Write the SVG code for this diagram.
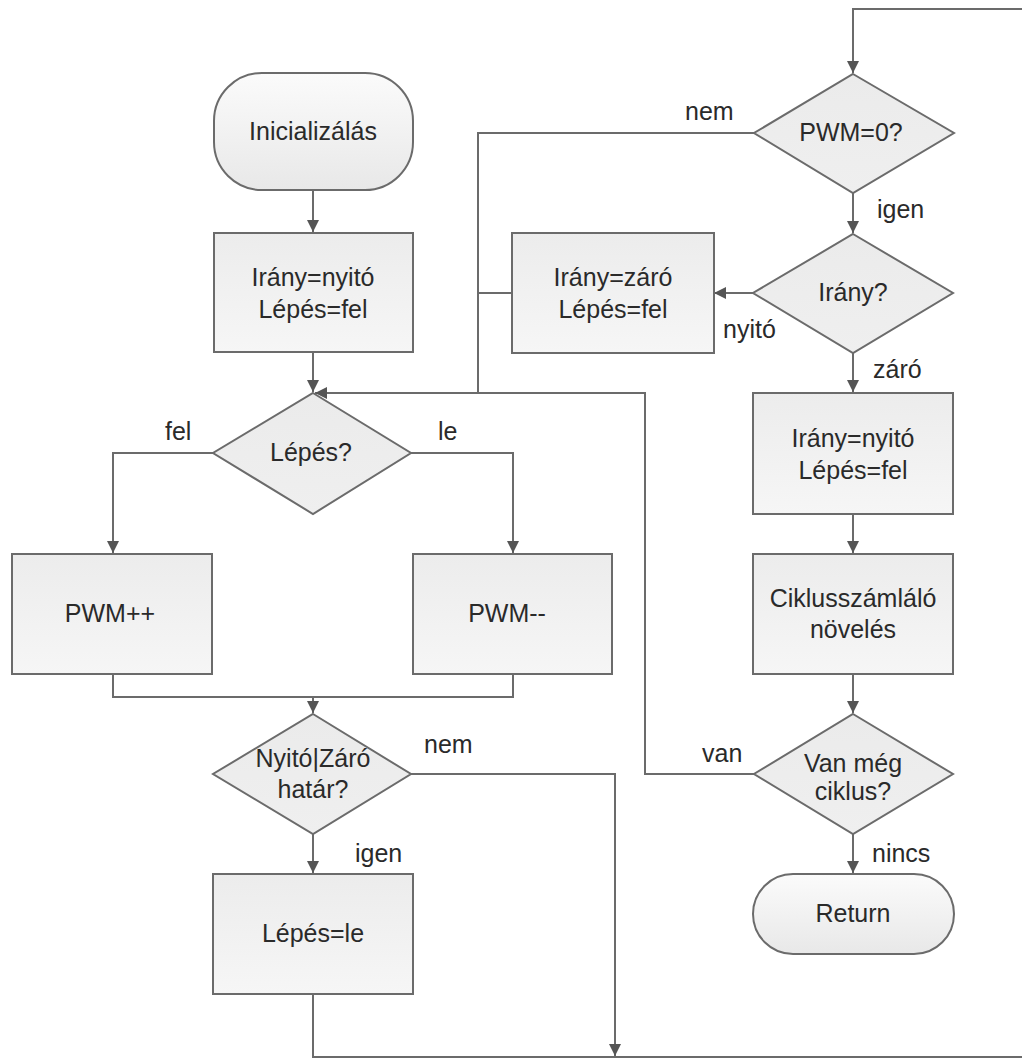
<svg xmlns="http://www.w3.org/2000/svg" width="1022" height="1059" viewBox="0 0 1022 1059">
<style>
.shape{stroke:#6b6b6b;stroke-width:2}
.box{fill:url(#gBox)}
.dia{fill:url(#gDia)}
.term{fill:url(#gTerm)}
.t{font-family:"Liberation Sans",Arial,sans-serif;font-size:25px;fill:#2a2a2a;text-anchor:middle}
.lbl{font-family:"Liberation Sans",Arial,sans-serif;font-size:25px;fill:#2a2a2a}
.c{fill:none;stroke:#6b6b6b;stroke-width:2}
</style>
<defs>
<linearGradient id="gBox" x1="0" y1="0" x2="0" y2="1"><stop offset="0" stop-color="#ececec"/><stop offset="1" stop-color="#f6f6f6"/></linearGradient>
<linearGradient id="gDia" x1="0" y1="0" x2="0" y2="1"><stop offset="0" stop-color="#ebebeb"/><stop offset="1" stop-color="#efefef"/></linearGradient>
<linearGradient id="gTerm" x1="0" y1="0" x2="0" y2="1"><stop offset="0" stop-color="#fbfbfb"/><stop offset="1" stop-color="#e8e8e8"/></linearGradient>
<marker id="ah" viewBox="0 0 12 12" refX="12" refY="6" markerWidth="12" markerHeight="12" markerUnits="userSpaceOnUse" orient="auto"><path d="M0,0 L12,6 L0,12 z" fill="#555"/></marker>
</defs>
<rect width="1022" height="1059" fill="#ffffff"/>

<g id="connectors">
<path class="c" d="M313,190 V232" marker-end="url(#ah)"/>
<path class="c" d="M313,352 V392" marker-end="url(#ah)"/>
<path class="c" d="M213,453 H113 V553" marker-end="url(#ah)"/>
<path class="c" d="M411,453 H513 V553" marker-end="url(#ah)"/>
<path class="c" d="M113,674 V697 H513 V674"/>
<path class="c" d="M313,697 V713" marker-end="url(#ah)"/>
<path class="c" d="M313,834 V873" marker-end="url(#ah)"/>
<path class="c" d="M411,774 H615 V1056" marker-end="url(#ah)"/>
<path class="c" d="M313,994 V1057 H1022"/>
<path class="c" d="M1022,9 H853 V73" marker-end="url(#ah)"/>
<path class="c" d="M754,133 H478 V393"/>
<path class="c" d="M853,193 V233" marker-end="url(#ah)"/>
<path class="c" d="M753,293 H714" marker-end="url(#ah)"/>
<path class="c" d="M512,293 H478"/>
<path class="c" d="M853,353 V392" marker-end="url(#ah)"/>
<path class="c" d="M853,514 V553" marker-end="url(#ah)"/>
<path class="c" d="M853,674 V713" marker-end="url(#ah)"/>
<path class="c" d="M754,774 H645 V393 H315" marker-end="url(#ah)"/>
<path class="c" d="M853,834 V873" marker-end="url(#ah)"/>
</g>

<g id="n-init"><rect class="shape term" x="214" y="73" width="199" height="117" rx="48" ry="48"/><text class="t" x="313" y="140">Inicializálás</text></g>
<g id="n-set1"><rect class="shape box" x="214" y="233" width="199" height="119"/><text class="t" x="313" y="286">Irány=nyitó<tspan x="313" dy="32">Lépés=fel</tspan></text></g>
<g id="n-lepes"><polygon class="shape dia" points="313,393 411,453 313,514 213,453"/><text class="t" x="311" y="461">Lépés?</text></g>
<g id="n-pwmpp"><rect class="shape box" x="12" y="554" width="200" height="120"/><text class="t" x="110" y="622">PWM++</text></g>
<g id="n-pwmmm"><rect class="shape box" x="413" y="554" width="199" height="120"/><text class="t" x="507" y="622">PWM--</text></g>
<g id="n-hatar"><polygon class="shape dia" points="313,714 411,774 313,834 213,774"/><text class="t" x="313" y="767">Nyitó|Záró<tspan x="313" dy="31">határ?</tspan></text></g>
<g id="n-lepesle"><rect class="shape box" x="213" y="874" width="200" height="120"/><text class="t" x="313" y="942">Lépés=le</text></g>
<g id="n-pwm0"><polygon class="shape dia" points="853,74 954,133 853,193 754,133"/><text class="t" x="851" y="141">PWM=0?</text></g>
<g id="n-irany"><polygon class="shape dia" points="853,234 953,293 853,353 753,293"/><text class="t" x="853" y="301">Irány?</text></g>
<g id="n-set2"><rect class="shape box" x="512" y="233" width="202" height="120"/><text class="t" x="613" y="286">Irány=záró<tspan x="613" dy="32">Lépés=fel</tspan></text></g>
<g id="n-set3"><rect class="shape box" x="753" y="393" width="200" height="121"/><text class="t" x="853" y="447">Irány=nyitó<tspan x="853" dy="32">Lépés=fel</tspan></text></g>
<g id="n-ciklus"><rect class="shape box" x="753" y="554" width="200" height="120"/><text class="t" x="853" y="607">Ciklusszámláló<tspan x="853" dy="31">növelés</tspan></text></g>
<g id="n-van"><polygon class="shape dia" points="853,714 953,774 853,834 754,774"/><text class="t" x="853" y="772">Van még<tspan x="853" dy="28">ciklus?</tspan></text></g>
<g id="n-return"><rect class="shape term" x="753" y="874" width="201" height="80" rx="40" ry="40"/><text class="t" x="853" y="922">Return</text></g>

<g id="labels">
<text class="lbl" x="685" y="120">nem</text>
<text class="lbl" x="877" y="218">igen</text>
<text class="lbl" x="723" y="338">nyitó</text>
<text class="lbl" x="873" y="378">záró</text>
<text class="lbl" x="165" y="440">fel</text>
<text class="lbl" x="438" y="440">le</text>
<text class="lbl" x="424" y="753">nem</text>
<text class="lbl" x="355" y="862">igen</text>
<text class="lbl" x="702" y="762">van</text>
<text class="lbl" x="872" y="862">nincs</text>
</g>
</svg>
